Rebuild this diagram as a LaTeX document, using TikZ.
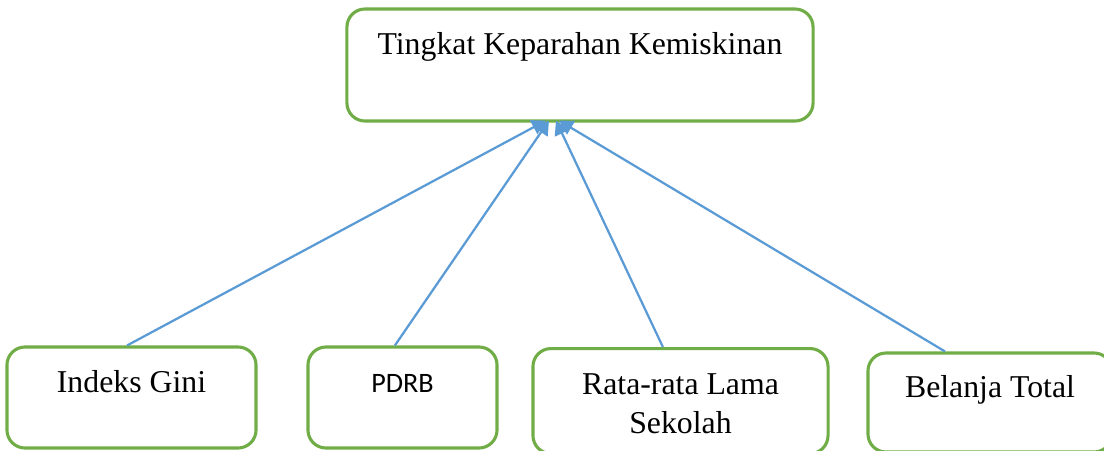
\documentclass[tikz,border=0pt]{standalone}
\usepackage{fontspec}
\setmainfont{Liberation Serif}
\newfontfamily\calibri{Carlito}
\usetikzlibrary{arrows.meta}

\definecolor{boxgreen}{HTML}{70AD47}
\definecolor{linkblue}{HTML}{5B9BD5}

\tikzset{
	box/.style={draw=boxgreen, line width=2.2pt, rounded corners=0.45cm,
		inner xsep=0pt, inner ysep=0pt, align=center,
		font=\fontsize{22.6}{27.7}\selectfont},
	link/.style={draw=linkblue, line width=1.6pt, -{Triangle[length=10pt,width=11pt]}}
}

\begin{document}
\begin{tikzpicture}[x=0.025cm, y=-0.025cm]
	\useasboundingbox (0,0) rectangle (1104,450);

	% draw the top box
	\node (top) [box, minimum width=11.65cm, text height=1.125cm, text depth=1.675cm, anchor=base]
		at (580,54) {Tingkat Keparahan Kemiskinan};

	% draw the boxes below
	\node (gini) [box, minimum width=6.225cm, text height=1.125cm, text depth=1.4cm, anchor=base]
		at (131.5,392) {Indeks Gini};
	\node (pdrb) [box, minimum width=4.725cm, text height=1.125cm, text depth=1.4cm, anchor=base,
		font=\calibri\fontsize{20}{24}\selectfont]
		at (402.5,392) {PDRB};
	\node (rata) [box, minimum width=7.375cm, text height=2.125cm, text depth=0.5cm, anchor=north]
		at (680.5,347) {Rata-rata Lama\\Sekolah};
	\node (belanja) [box, minimum width=6.1cm, text height=1.1cm, text depth=1.375cm, anchor=base]
		at (990,397) {Belanja Total};

	% arrows up to the top box
	\draw[link] ([xshift=-0.11cm]gini.north) -- ([xshift=-0.85cm,yshift=0.05cm]top.south);
	\draw[link] ([xshift=-0.19cm]pdrb.north) -- ([xshift=-0.775cm,yshift=0.05cm]top.south);
	\draw[link] ([xshift=-0.44cm]rata.north) -- ([xshift=-0.6cm,yshift=0.05cm]top.south);
	\draw[link] ([xshift=-1.125cm]belanja.north) -- ([xshift=-0.525cm,yshift=0.05cm]top.south);
	%\node at (580,-20) {};
\end{tikzpicture}
\end{document}
